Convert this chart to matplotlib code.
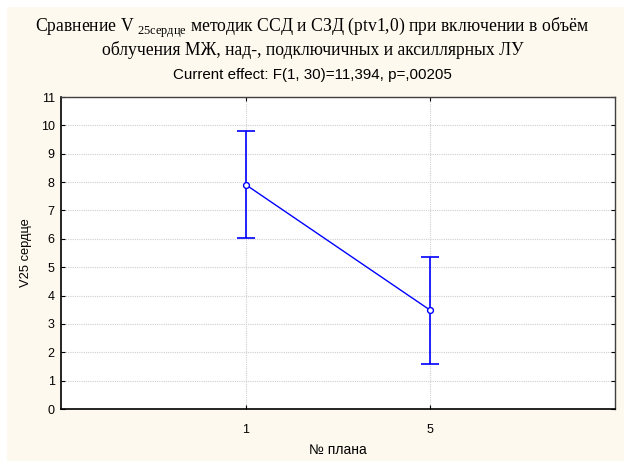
import matplotlib
matplotlib.use("Agg")
import matplotlib.pyplot as plt
from matplotlib.patches import Rectangle
import numpy as np

# Data
categories = ["1", "5"]
means = [7.91, 3.48]
err_upper = [9.80, 5.37]
err_lower = [6.02, 1.59]
y_ticks = list(range(0, 12))

title_line1 = "Сравнение V $_{\\mathregular{25сердце}}$ методик ССД и СЗД (ptv1,0) при включении в объём"
title_line2 = "облучения МЖ, над-, подключичных и аксиллярных ЛУ"
subtitle = "Current effect: F(1, 30)=11,394, p=,00205"
xlabel = "№ плана"
ylabel = "V25 сердце"

bg = "#FEF9EE"
blue = "#0000FF"
W, H = 624, 461

fig = plt.figure(figsize=(W/100, H/100), dpi=100, facecolor="white")
fig.patches.append(Rectangle((7/W, 0), 1 - 7/W, 1 - 7/H, transform=fig.transFigure,
                             facecolor=bg, edgecolor="none", zorder=-10))

ax = fig.add_axes([61/W, 1 - 409/H, (615-61)/W, (409-97)/H])
ax.set_facecolor("white")

x = np.arange(len(categories))
m = np.array(means)
yerr = np.array([m - np.array(err_lower), np.array(err_upper) - m])

ax.errorbar(x, m, yerr=yerr, fmt="none", ecolor=blue, elinewidth=1.2,
            capsize=6.5, capthick=1.2, zorder=3)
ax.plot(x, m, color=blue, lw=1.0, zorder=4)
ax.plot(x, m, "o", ms=4.2, mfc="white", mec=blue, mew=1.0, zorder=5)

ax.set_xlim(-1, 2)
ax.set_ylim(0, 11)
ax.set_xticks(x)
ax.set_xticklabels(categories)
ax.set_yticks(y_ticks)
ax.grid(True, color="#CFCFCF", linestyle=(0, (1, 1)), linewidth=0.8, zorder=0)
ax.set_axisbelow(True)

ax.tick_params(direction="in", length=3, width=0.8, top=True, right=True,
               labelsize=9, colors="black", pad=4.5)
ax.tick_params(axis="x", pad=11)
for s in ax.spines.values():
    s.set_color("#404040")
    s.set_linewidth(1.0)
ax.spines["left"].set_color("black")
ax.spines["bottom"].set_color("black")
ax.spines["left"].set_linewidth(1.2)
ax.spines["bottom"].set_linewidth(1.2)

for lbl in ax.get_xticklabels() + ax.get_yticklabels():
    lbl.set_family("Liberation Sans")

fig.text(338/W, 1 - 450/H, xlabel, family="Liberation Sans", fontsize=10,
         ha="center", va="center")
fig.text(25.5/W, 1 - 253/H, ylabel, family="Liberation Sans", fontsize=9.3,
         ha="center", va="center", rotation=90)

fig.text(312/W, 1 - 28/H, title_line1, family="Liberation Serif", fontsize=12.7,
         ha="center", va="center")
fig.text(313/W, 1 - 50/H, title_line2, family="Liberation Serif", fontsize=12.7,
         ha="center", va="center")
fig.text(312/W, 1 - 75/H, subtitle, family="Liberation Sans", fontsize=10.9,
         ha="center", va="center")

fig.savefig("out.png", dpi=100, facecolor="white")
